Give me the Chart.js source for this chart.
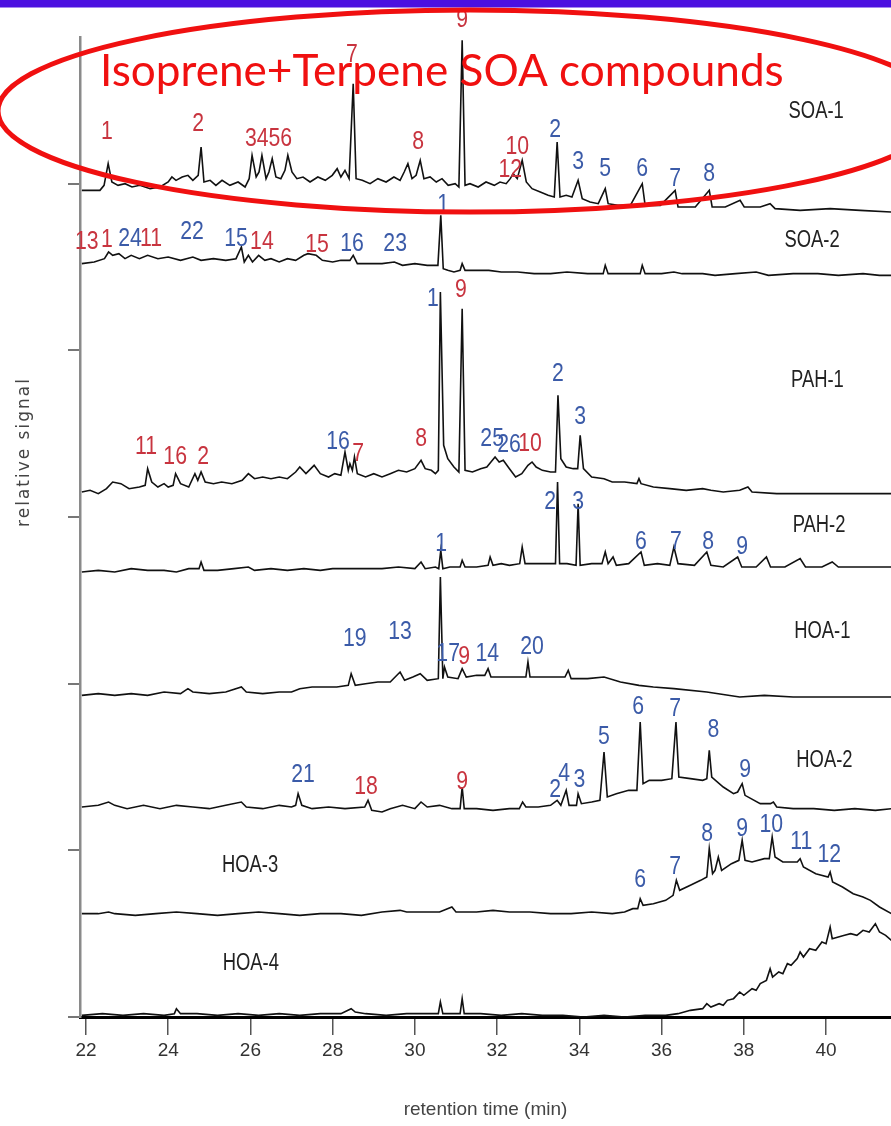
<!DOCTYPE html>
<html><head><meta charset="utf-8">
<script src="https://cdn.jsdelivr.net/npm/chart.js@4.4.0/dist/chart.umd.min.js"></script>
<style>html,body{margin:0;padding:0;background:#fff;}canvas{display:block}</style>
</head><body>
<canvas id="c" width="891" height="1126"></canvas>
<script>
// ---------------- DATA (retention time [min], relative signal above trace baseline) ----------------
const xTickValues = [22,24,26,28,30,32,34,36,38,40];
const yTickValues = [0,100,200,300,400,500];
const traceNames = ['SOA-1','SOA-2','PAH-1','PAH-2','HOA-1','HOA-2','HOA-3','HOA-4'];
const traceOffsets = [497,453,316,268,194,126,62,1];

const soa1 = [[21.9,-1],[22.34,-1],[22.44,2],[22.54,15],[22.63,4],[22.78,2],[22.95,3],[23.12,1],[23.31,2],[23.56,0],[23.8,1],[24.0,4],[24.09,7],[24.19,5],[24.34,7],[24.48,8],[24.6,5],[24.73,8],[24.8,25],[24.87,4],[25.02,5],[25.16,2],[25.31,5],[25.5,2],[25.7,4],[25.87,1],[25.97,6],[26.04,20],[26.14,7],[26.21,10],[26.28,20],[26.38,6],[26.45,10],[26.53,18],[26.62,7],[26.74,6],[26.84,11],[26.91,20],[27.01,10],[27.13,6],[27.28,7],[27.45,4],[27.64,7],[27.82,5],[27.99,8],[28.11,12],[28.2,7],[28.3,11],[28.4,6],[28.5,63],[28.57,6],[28.72,5],[28.91,3],[29.1,6],[29.3,4],[29.49,7],[29.64,5],[29.74,10],[29.83,15],[29.93,6],[30.03,8],[30.13,17],[30.22,6],[30.37,7],[30.52,4],[30.66,6],[30.81,2],[30.98,3],[31.07,1],[31.15,89],[31.22,2],[31.34,3],[31.54,1],[31.73,4],[31.93,2],[32.07,4],[32.22,3],[32.32,6],[32.39,9],[32.49,6],[32.61,17],[32.71,4],[32.85,0],[33.05,-2],[33.24,-4],[33.39,-5],[33.46,28],[33.53,-5],[33.68,-4],[33.82,-5],[33.97,5],[34.07,-6],[34.26,-8],[34.46,-9],[34.63,0],[34.7,-9],[34.94,-10],[35.24,-10],[35.53,3],[35.6,-10],[35.97,-10],[36.33,-1],[36.4,-11],[36.82,-11],[37.16,-1],[37.23,-11],[37.55,-11],[37.91,-7],[38.01,-11],[38.4,-11],[38.64,-9],[38.76,-12],[39.37,-13],[40.1,-12],[40.83,-13],[41.59,-14]];

const soa2 = [[21.9,-1],[22.2,0],[22.45,2],[22.55,6],[22.65,4],[22.8,5],[22.95,2],[23.1,4],[23.3,2],[23.5,4],[23.75,2],[24.0,3],[24.3,1],[24.6,3],[24.8,1],[25.1,2],[25.4,1],[25.65,2],[25.78,9],[25.85,0],[25.95,4],[26.05,0],[26.2,4],[26.35,1],[26.5,2],[26.7,0],[26.9,2],[27.1,1],[27.3,4],[27.4,5],[27.6,4],[27.75,1],[28.0,0],[28.2,1],[28.42,1],[28.5,4],[28.6,-1],[28.9,-1],[29.2,-1],[29.5,0],[29.7,-2],[30.0,-1],[30.3,-2],[30.56,-2],[30.63,28],[30.69,-4],[30.8,-5],[30.95,-6],[31.1,-5],[31.15,-1],[31.22,-5],[31.5,-5],[31.8,-5],[32.1,-6],[32.5,-6],[32.9,-7],[33.3,-7],[33.7,-6],[34.2,-7],[34.58,-7],[34.63,-2],[34.7,-7],[35.1,-7],[35.48,-7],[35.53,-2],[35.6,-7],[36.0,-7],[36.3,-6],[36.5,-7],[37.0,-7],[37.3,-8],[37.8,-7],[38.3,-6],[38.6,-8],[39.2,-7],[39.8,-7],[40.3,-8],[40.9,-7],[41.3,-8],[41.59,-8]];

const pah1 = [[21.9,-1],[22.1,0],[22.3,-2],[22.5,1],[22.65,5],[22.85,4],[23.05,1],[23.3,2],[23.44,3],[23.5,13],[23.6,5],[23.75,2],[23.9,4],[24.0,2],[24.12,3],[24.18,10],[24.3,4],[24.5,2],[24.65,10],[24.72,6],[24.8,11],[24.9,5],[25.1,4],[25.3,5],[25.55,4],[25.8,6],[25.95,10],[26.1,7],[26.3,8],[26.5,7],[26.7,8],[26.9,7],[27.1,11],[27.2,14],[27.35,10],[27.55,15],[27.7,10],[27.9,8],[28.05,10],[28.2,9],[28.3,23],[28.38,12],[28.42,16],[28.48,12],[28.53,20],[28.6,10],[28.8,8],[29.0,10],[29.2,8],[29.4,10],[29.6,12],[29.8,11],[30.0,13],[30.15,18],[30.25,13],[30.4,12],[30.5,10],[30.57,12],[30.62,119],[30.7,27],[30.8,19],[30.95,14],[31.07,11],[31.15,109],[31.22,12],[31.4,11],[31.6,13],[31.75,14],[31.85,17],[31.95,20],[32.05,17],[32.15,18],[32.3,13],[32.45,8],[32.6,10],[32.75,15],[32.85,17],[32.95,14],[33.1,12],[33.3,11],[33.42,11],[33.48,57],[33.55,19],[33.68,14],[33.85,13],[33.96,13],[34.02,33],[34.1,13],[34.3,8],[34.6,7],[34.8,5],[35.1,5],[35.4,4],[35.45,7],[35.5,4],[35.8,2],[36.2,1],[36.6,0],[37.0,1],[37.2,0],[37.5,-1],[37.9,0],[38.1,2],[38.2,-1],[38.8,-2],[39.3,-2],[39.8,-2],[40.3,-2],[40.8,-2],[41.3,-2],[41.59,-2]];

const pah2 = [[21.9,-1],[22.3,0],[22.7,-1],[23.1,1],[23.5,0],[23.9,0],[24.2,-1],[24.5,1],[24.75,1],[24.8,5],[24.87,0],[25.2,0],[25.6,1],[25.95,2],[26.1,0],[26.5,1],[26.9,0],[27.3,1],[27.7,0],[28.0,1],[28.4,1],[28.8,1],[29.2,1],[29.6,2],[30.0,1],[30.15,5],[30.25,1],[30.5,2],[30.58,1],[30.63,12],[30.68,1],[30.85,2],[31.1,2],[31.15,6],[31.22,2],[31.5,2],[31.78,3],[31.83,8],[31.9,3],[32.1,4],[32.3,3],[32.55,4],[32.61,14],[32.68,4],[32.9,4],[33.2,4],[33.42,4],[33.47,53],[33.52,4],[33.7,4],[33.92,3],[33.97,40],[34.02,3],[34.3,4],[34.55,4],[34.63,11],[34.7,4],[34.82,8],[34.9,3],[35.2,4],[35.5,11],[35.58,3],[35.9,4],[36.2,3],[36.3,14],[36.4,4],[36.8,3],[37.1,11],[37.2,3],[37.5,2],[37.85,8],[37.95,2],[38.3,2],[38.55,8],[38.65,2],[39.0,2],[39.37,7],[39.5,2],[39.9,2],[40.15,5],[40.3,2],[40.7,2],[41.1,2],[41.59,2]];

const hoa1 = [[21.9,-1],[22.3,0],[22.7,-1],[23.1,0],[23.5,-1],[23.9,1],[24.3,0],[24.48,3],[24.6,1],[25.0,0],[25.4,1],[25.78,4],[25.9,1],[26.3,0],[26.7,1],[27.0,1],[27.2,3],[27.5,4],[27.8,4],[28.1,4],[28.38,5],[28.45,12],[28.55,5],[28.8,6],[29.1,7],[29.4,7],[29.64,13],[29.75,8],[29.95,10],[30.13,12],[30.3,8],[30.57,9],[30.62,70],[30.68,9],[30.72,16],[30.8,10],[31.05,9],[31.15,15],[31.25,10],[31.5,11],[31.7,11],[31.78,15],[31.85,10],[32.2,10],[32.5,10],[32.7,10],[32.75,19],[32.8,10],[33.2,10],[33.65,10],[33.73,14],[33.8,9],[34.2,9],[34.6,10],[35.0,7],[35.45,5],[35.8,4],[36.3,3],[37.1,1],[37.9,-2],[38.5,-1],[39.2,-2],[40.0,-2],[40.8,-2],[41.59,-2]];

const hoa2 = [[21.9,0],[22.3,1],[22.55,3],[22.7,1],[23.0,-1],[23.4,1],[23.8,-1],[24.2,1],[24.6,0],[25.0,-1],[25.4,1],[25.78,3],[25.9,0],[26.3,-1],[26.7,1],[27.0,0],[27.1,1],[27.16,8],[27.25,1],[27.5,-1],[27.9,0],[28.3,-1],[28.78,0],[28.86,4],[28.95,-2],[29.2,-3],[29.4,-1],[29.7,1],[30.0,-1],[30.15,3],[30.3,0],[30.6,1],[30.9,-1],[31.1,-1],[31.15,12],[31.2,-1],[31.5,-1],[31.9,-2],[32.3,-1],[32.54,-1],[32.62,3],[32.7,0],[33.0,0],[33.3,1],[33.46,4],[33.55,1],[33.68,10],[33.75,1],[33.93,1],[33.97,8],[34.05,2],[34.3,3],[34.5,4],[34.6,33],[34.68,6],[34.9,8],[35.2,10],[35.4,10],[35.48,51],[35.55,14],[35.7,16],[36.0,16],[36.25,17],[36.35,51],[36.42,18],[36.7,17],[37.0,16],[37.1,17],[37.16,34],[37.22,18],[37.5,12],[37.75,8],[37.85,9],[37.96,14],[38.03,7],[38.4,2],[38.65,2],[38.72,3],[38.8,0],[39.2,-1],[39.7,-1],[40.2,-2],[40.7,-1],[41.2,-2],[41.59,-1]];

const hoa3 = [[21.9,0],[22.3,0],[22.55,1],[22.7,0],[23.2,-1],[23.7,0],[24.2,1],[24.7,0],[25.2,-1],[25.7,0],[26.2,1],[26.7,0],[27.2,-1],[27.7,0],[28.2,0],[28.7,-1],[29.2,1],[29.64,2],[29.8,1],[30.2,1],[30.6,1],[30.9,4],[31.0,1],[31.5,1],[31.9,2],[32.3,1],[32.8,1],[33.3,0],[33.8,0],[34.3,1],[34.8,0],[35.1,1],[35.3,3],[35.42,3],[35.48,9],[35.55,5],[35.8,6],[36.1,8],[36.28,11],[36.36,20],[36.44,14],[36.7,17],[36.95,20],[37.1,22],[37.16,39],[37.24,24],[37.3,26],[37.38,34],[37.46,26],[37.7,30],[37.88,32],[37.96,44],[38.03,32],[38.2,31],[38.5,33],[38.62,33],[38.69,46],[38.76,34],[38.95,31],[39.3,31],[39.37,33],[39.45,28],[39.75,24],[40.05,22],[40.1,25],[40.16,19],[40.4,16],[40.66,12],[40.9,10],[41.08,8],[41.3,4],[41.59,0]];

const hoa4 = [[21.9,0],[22.4,1],[22.9,0],[23.4,1],[23.9,0],[24.15,1],[24.2,4],[24.3,1],[24.7,1],[25.2,0],[25.7,1],[26.2,0],[26.7,1],[27.2,0],[27.7,1],[28.2,1],[28.45,4],[28.55,2],[28.8,1],[29.3,0],[29.8,1],[30.3,1],[30.57,1],[30.62,8],[30.68,1],[31.1,1],[31.15,10],[31.2,1],[31.6,1],[32.1,0],[32.6,1],[33.1,0],[33.6,0],[34.1,-1],[34.6,0],[35.1,-1],[35.6,0],[36.1,0],[36.4,1],[36.7,3],[37.0,4],[37.1,7],[37.2,5],[37.4,7],[37.5,6],[37.6,9],[37.75,10],[37.9,14],[38.0,12],[38.2,16],[38.3,15],[38.4,19],[38.55,21],[38.64,28],[38.7,23],[38.85,26],[38.95,25],[39.06,31],[39.15,30],[39.3,34],[39.37,38],[39.45,35],[39.6,40],[39.75,39],[39.9,44],[40.0,43],[40.1,53],[40.15,46],[40.3,47],[40.45,48],[40.6,49],[40.75,48],[40.9,51],[41.05,50],[41.2,55],[41.3,50],[41.45,48],[41.59,45]];

// peak labels: [text, retention time, signal above baseline, compound group (a / b)]
const soa1Peaks = [['1',22.51,34,'a'],['2',24.73,39,'a'],['3456',26.44,30,'a'],['7',28.47,80,'a'],['8',30.08,28,'a'],['9',31.15,101,'a'],['10',32.49,25,'a'],['12',32.32,11,'a'],['2',33.41,35,'b'],['3',33.97,16,'b'],['5',34.63,12,'b'],['6',35.53,12,'b'],['7',36.33,6,'b'],['8',37.16,9,'b']];
const soa2Peaks = [['13',22.02,12,'a'],['1',22.51,13,'a'],['24',23.07,14,'b'],['11',23.58,14,'a'],['22',24.58,18,'b'],['15',25.65,14,'b'],['14',26.28,12,'a'],['15',27.62,10,'a'],['16',28.47,11,'b'],['23',29.52,11,'b'],['1',30.69,34,'b']];
const pah1Peaks = [['11',23.46,26,'a'],['16',24.17,20,'a'],['2',24.85,20,'a'],['16',28.13,29,'b'],['7',28.62,22,'a'],['8',30.15,31,'a'],['1',30.44,115,'b'],['9',31.12,120,'a'],['25',31.88,31,'b'],['26',32.29,27,'b'],['10',32.8,28,'a'],['2',33.48,70,'b'],['3',34.02,44,'b']];
const pah2Peaks = [['1',30.64,16,'b'],['2',33.29,41,'b'],['3',33.97,41,'b'],['6',35.5,17,'b'],['7',36.35,17,'b'],['8',37.13,17,'b'],['9',37.96,14,'b']];
const hoa1Peaks = [['19',28.54,33,'b'],['13',29.64,37,'b'],['17',30.81,24,'b'],['9',31.2,22,'a'],['14',31.76,24,'b'],['20',32.85,28,'b']];
const hoa2Peaks = [['21',27.28,19,'b'],['18',28.81,12,'a'],['9',31.15,15,'a'],['2',33.41,10,'b'],['4',33.63,20,'b'],['3',34.0,16,'b'],['5',34.6,42,'b'],['6',35.43,60,'b'],['7',36.33,59,'b'],['8',37.26,46,'b'],['9',38.03,22,'b']];
const hoa3Peaks = [['6',35.48,20,'b'],['7',36.33,28,'b'],['8',37.11,48,'b'],['9',37.96,51,'b'],['10',38.67,53,'b'],['11',39.4,43,'b'],['12',40.08,35,'b']];
const hoa4Peaks = [];

const annotationText = 'Isoprene+Terpene SOA compounds';
const xTitle = 'retention time (min)';
const yTitle = 'relative signal';

// ---------------- STYLE / LAYOUT ----------------
const traceSeries = [soa1,soa2,pah1,pah2,hoa1,hoa2,hoa3,hoa4];
const tracePeaks = [soa1Peaks,soa2Peaks,pah1Peaks,pah2Peaks,hoa1Peaks,hoa2Peaks,hoa3Peaks,hoa4Peaks];
const nameAnchor = { // [time, signal] where each trace name is written
  'SOA-1':[39.76,543],'SOA-2':[39.66,466],'PAH-1':[39.79,382],'PAH-2':[39.83,295],
  'HOA-1':[39.91,231],'HOA-2':[39.96,154],'HOA-3':[25.99,91],'HOA-4':[26.01,32]
};
const groupColor = {a:'#c8343f', b:'#3b5ba8'};
const SANS = '"Liberation Sans", Arial, sans-serif';

const datasets = traceNames.map((name,i)=>({
  label: name,
  data: traceSeries[i].map(([t,s])=>({x:t, y:traceOffsets[i]+s})),
  borderColor:'#111', borderWidth:1.6, pointRadius:0, tension:0, fill:false, clip:false
}));

function narrowText(ctx, txt, px, py, sx){
  ctx.save(); ctx.translate(px,py); ctx.scale(sx,1); ctx.fillText(txt,0,0); ctx.restore();
}

const deco = {
  id:'deco',
  afterDatasetsDraw(chart){
    const {ctx, scales:{x,y}} = chart;
    ctx.save();
    ctx.textAlign='center'; ctx.textBaseline='middle';
    ctx.font = '25px ' + SANS;
    tracePeaks.forEach((list,i)=>{
      list.forEach(([txt,t,h,g])=>{
        ctx.fillStyle = groupColor[g];
        narrowText(ctx, txt, x.getPixelForValue(t), y.getPixelForValue(traceOffsets[i]+h), 0.85);
      });
    });
    ctx.font = '23px ' + SANS;
    ctx.fillStyle = '#222';
    traceNames.forEach(n=>{
      const [t,v] = nameAnchor[n];
      narrowText(ctx, n, x.getPixelForValue(t), y.getPixelForValue(v), 0.8);
    });
    ctx.restore();
  },
  afterDraw(chart){
    const {ctx} = chart;
    ctx.save();
    ctx.fillStyle = '#4b10e0';
    ctx.fillRect(0,0,891,7.5);
    // y title
    ctx.translate(25,452); ctx.rotate(-Math.PI/2);
    ctx.font = '17px "DejaVu Sans", sans-serif';
    try { ctx.letterSpacing = '2px'; } catch(e) {}
    ctx.fillStyle = '#444'; ctx.textAlign='center'; ctx.textBaseline='middle';
    ctx.fillText(yTitle,0,0);
    try { ctx.letterSpacing = '0px'; } catch(e) {}
    ctx.setTransform(1,0,0,1,0,0);
    // red ellipse + annotation
    ctx.strokeStyle = '#f01010'; ctx.lineWidth = 5;
    ctx.beginPath(); ctx.ellipse(470,111,472,101,0,0,Math.PI*2); ctx.stroke();
    let fs = 40; ctx.font = fs+'px Lato, "Open Sans", sans-serif';
    fs = fs*683/ctx.measureText(annotationText).width;
    ctx.font = fs.toFixed(1)+'px Lato, "Open Sans", sans-serif';
    ctx.fillStyle = '#f01010'; ctx.textAlign='left'; ctx.textBaseline='alphabetic';
    ctx.fillText(annotationText,100,86);
    ctx.restore();
  }
};

new Chart(document.getElementById('c'),{
  type:'line',
  data:{datasets},
  options:{
    responsive:false, animation:false, devicePixelRatio:1,
    layout:{padding:{top:37,right:0,bottom:0,left:0}},
    plugins:{legend:{display:false}, tooltip:{enabled:false}},
    scales:{
      x:{type:'linear', min:21.855, max:41.58,
        afterBuildTicks:s=>{s.ticks = xTickValues.map(v=>({value:v}));},
        afterFit:s=>{s.height=109;},
        grid:{drawOnChartArea:false, drawTicks:true, tickLength:18, color:'#555', lineWidth:1.5},
        border:{display:true, color:'#000', width:3},
        ticks:{padding:4, color:'#333', font:{family:SANS, size:19}, maxRotation:0, autoSkip:false},
        title:{display:true, text:xTitle, color:'#444', font:{family:SANS, size:19}, padding:{top:0,bottom:5}}
      },
      y:{type:'linear', min:0, max:588,
        afterBuildTicks:s=>{s.ticks = yTickValues.map(v=>({value:v}));},
        afterFit:s=>{s.width=80;},
        grid:{drawOnChartArea:false, drawTicks:true, tickLength:12, color:'#777', lineWidth:2},
        border:{display:true, color:'#8a8a8a', width:2.5},
        ticks:{display:false}
      }
    }
  },
  plugins:[deco]
});
</script>
</body></html>
